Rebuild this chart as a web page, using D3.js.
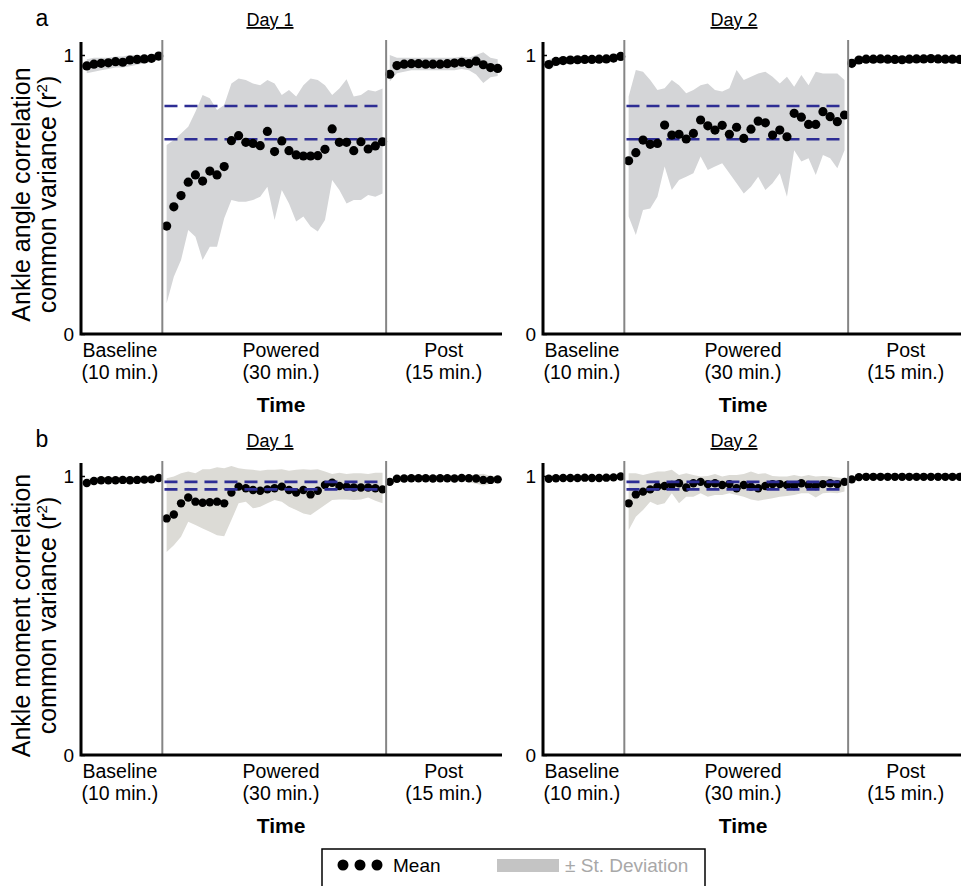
<!DOCTYPE html>
<html>
<head>
<meta charset="utf-8">
<script src="https://cdn.jsdelivr.net/npm/d3@7/dist/d3.min.js"></script>
<style>
  body { margin: 0; background: #fff; }
  svg { display: block; font-family: 'Liberation Sans', Arial, sans-serif; }
</style>
</head>
<body>
<svg id="chart" width="961" height="886"></svg>
<script>
const phaseNames = ['Baseline', 'Powered', 'Post'];
const phaseDurations = ['(10 min.)', '(30 min.)', '(15 min.)'];
const phaseCounts = [11, 31, 16];
const dayTitles = ['Day 1', 'Day 2'];
const yTicks = [0, 1];
const yLabelAngle = ['Ankle angle correlation', 'common variance (r', ')'];
const yLabelMoment = ['Ankle moment correlation', 'common variance (r', ')'];
const angleRefLines = [0.698, 0.817];
const momentRefLines = [0.952, 0.979];

// panel a, day 1 (baseline | powered | post)
const angleDay1Mean = [
  0.961, 0.967, 0.970, 0.972, 0.976, 0.974, 0.982, 0.984, 0.986, 0.988, 0.996,
  0.387, 0.456, 0.496, 0.544, 0.570, 0.548, 0.584, 0.570, 0.600, 0.693, 0.711,
  0.687, 0.683, 0.675, 0.726, 0.654, 0.692, 0.657, 0.642, 0.638, 0.638, 0.639,
  0.662, 0.735, 0.687, 0.687, 0.657, 0.689, 0.663, 0.674, 0.689,
  0.931, 0.962, 0.967, 0.969, 0.969, 0.967, 0.967, 0.967, 0.969, 0.971, 0.974,
  0.969, 0.978, 0.965, 0.955, 0.952,
];
const angleDay1Upper = [
  0.985, 0.990, 0.990, 0.990, 0.995, 0.995, 1.000, 1.000, 1.000, 1.000, 1.000,
  0.677, 0.695, 0.719, 0.743, 0.797, 0.857, 0.845, 0.803, 0.821, 0.898, 0.916,
  0.910, 0.898, 0.892, 0.910, 0.898, 0.857, 0.875, 0.851, 0.892, 0.916, 0.910,
  0.892, 0.857, 0.880, 0.913, 0.851, 0.857, 0.875, 0.869, 0.880,
  1.000, 0.990, 0.990, 0.990, 0.990, 0.990, 0.990, 0.990, 0.990, 0.990, 0.995,
  0.990, 1.000, 1.010, 0.990, 0.985,
];
const angleDay1Lower = [
  0.935, 0.940, 0.945, 0.950, 0.955, 0.955, 0.960, 0.965, 0.970, 0.975, 0.980,
  0.110, 0.205, 0.265, 0.373, 0.349, 0.265, 0.313, 0.313, 0.415, 0.480, 0.474,
  0.474, 0.480, 0.492, 0.528, 0.409, 0.516, 0.468, 0.403, 0.421, 0.385, 0.367,
  0.409, 0.552, 0.516, 0.468, 0.480, 0.480, 0.498, 0.492, 0.504,
  0.905, 0.935, 0.940, 0.945, 0.945, 0.945, 0.945, 0.945, 0.945, 0.945, 0.950,
  0.945, 0.930, 0.900, 0.920, 0.925,
];

// panel a, day 2
const angleDay2Mean = [
  0.966, 0.977, 0.980, 0.982, 0.983, 0.984, 0.984, 0.985, 0.986, 0.989, 0.995,
  0.621, 0.650, 0.695, 0.680, 0.683, 0.749, 0.713, 0.716, 0.699, 0.719, 0.767,
  0.746, 0.731, 0.748, 0.716, 0.741, 0.701, 0.734, 0.763, 0.757, 0.713, 0.731,
  0.707, 0.791, 0.777, 0.751, 0.751, 0.797, 0.779, 0.761, 0.785,
  0.970, 0.982, 0.985, 0.985, 0.986, 0.985, 0.984, 0.983, 0.985, 0.986, 0.986,
  0.987, 0.986, 0.985, 0.985, 0.984,
];
const angleDay2Upper = [
  0.985, 0.990, 0.990, 0.992, 0.992, 0.993, 0.993, 0.994, 0.995, 0.997, 1.000,
  0.851, 0.946, 0.940, 0.910, 0.875, 0.881, 0.910, 0.892, 0.863, 0.875, 0.892,
  0.898, 0.875, 0.869, 0.881, 0.946, 0.910, 0.922, 0.934, 0.940, 0.922, 0.898,
  0.922, 0.886, 0.928, 0.892, 0.940, 0.934, 0.934, 0.934, 0.910,
  0.985, 0.993, 0.995, 0.995, 0.996, 0.995, 0.994, 0.993, 0.995, 0.996, 0.996,
  0.997, 0.996, 0.995, 0.995, 0.994,
];
const angleDay2Lower = [
  0.945, 0.962, 0.968, 0.971, 0.973, 0.975, 0.975, 0.976, 0.977, 0.980, 0.988,
  0.421, 0.355, 0.444, 0.450, 0.492, 0.600, 0.516, 0.552, 0.564, 0.576, 0.636,
  0.588, 0.600, 0.612, 0.576, 0.540, 0.504, 0.528, 0.564, 0.516, 0.540, 0.576,
  0.492, 0.659, 0.618, 0.630, 0.570, 0.642, 0.630, 0.594, 0.659,
  0.950, 0.970, 0.974, 0.974, 0.975, 0.974, 0.973, 0.972, 0.974, 0.975, 0.975,
  0.976, 0.975, 0.974, 0.974, 0.973,
];

// panel b, day 1
const momentDay1Mean = [
  0.975, 0.982, 0.985, 0.985, 0.985, 0.986, 0.985, 0.986, 0.987, 0.988, 0.993,
  0.848, 0.862, 0.902, 0.923, 0.908, 0.904, 0.906, 0.908, 0.902, 0.941, 0.962,
  0.956, 0.950, 0.947, 0.952, 0.956, 0.962, 0.950, 0.941, 0.950, 0.934, 0.947,
  0.968, 0.976, 0.964, 0.962, 0.959, 0.959, 0.959, 0.956, 0.952,
  0.979, 0.990, 0.991, 0.992, 0.992, 0.992, 0.991, 0.992, 0.992, 0.991, 0.993,
  0.992, 0.991, 0.986, 0.986, 0.988,
];
const momentDay1Upper = [
  0.990, 0.995, 0.997, 0.997, 0.997, 0.998, 0.997, 0.998, 0.999, 1.000, 1.003,
  0.992, 0.998, 1.010, 1.016, 1.010, 1.024, 1.024, 1.031, 1.028, 1.036, 1.028,
  1.024, 1.022, 1.019, 1.022, 1.022, 1.024, 1.019, 1.022, 1.024, 1.022, 1.024,
  1.016, 1.007, 1.012, 1.007, 1.010, 1.010, 1.007, 1.012, 1.012,
  0.990, 1.000, 1.001, 1.002, 1.002, 1.002, 1.001, 1.002, 1.002, 1.001, 1.003,
  1.002, 1.005, 1.008, 1.000, 1.000,
];
const momentDay1Lower = [
  0.960, 0.970, 0.973, 0.973, 0.973, 0.974, 0.973, 0.974, 0.975, 0.976, 0.983,
  0.728, 0.752, 0.782, 0.836, 0.824, 0.812, 0.800, 0.788, 0.784, 0.842, 0.902,
  0.908, 0.884, 0.890, 0.902, 0.914, 0.908, 0.890, 0.878, 0.866, 0.860, 0.878,
  0.896, 0.914, 0.916, 0.916, 0.914, 0.916, 0.923, 0.911, 0.902,
  0.965, 0.978, 0.979, 0.980, 0.980, 0.980, 0.979, 0.980, 0.980, 0.979, 0.981,
  0.978, 0.972, 0.966, 0.972, 0.975,
];

// panel b, day 2
const momentDay2Mean = [
  0.990, 0.992, 0.993, 0.993, 0.993, 0.994, 0.993, 0.993, 0.994, 0.995, 0.998,
  0.902, 0.934, 0.944, 0.952, 0.962, 0.964, 0.968, 0.974, 0.959, 0.974, 0.979,
  0.971, 0.974, 0.968, 0.971, 0.956, 0.968, 0.962, 0.956, 0.964, 0.971, 0.971,
  0.968, 0.964, 0.974, 0.968, 0.964, 0.971, 0.974, 0.971, 0.979,
  0.988, 0.996, 0.997, 0.997, 0.997, 0.997, 0.997, 0.997, 0.997, 0.997, 0.997,
  0.997, 0.997, 0.997, 0.997, 0.997,
];
const momentDay2Upper = [
  0.998, 0.999, 1.000, 1.000, 1.000, 1.000, 1.000, 1.000, 1.000, 1.000, 1.002,
  1.010, 1.010, 1.004, 1.010, 1.016, 1.016, 1.022, 1.004, 1.010, 1.004, 0.998,
  1.000, 1.007, 0.998, 1.004, 1.004, 1.007, 1.016, 1.007, 1.010, 1.000, 0.998,
  0.998, 1.004, 0.998, 1.004, 0.998, 1.000, 0.998, 0.995, 0.992,
  0.996, 1.000, 1.001, 1.001, 1.001, 1.001, 1.001, 1.001, 1.001, 1.001, 1.001,
  1.001, 1.001, 1.001, 1.001, 1.001,
];
const momentDay2Lower = [
  0.982, 0.985, 0.986, 0.986, 0.986, 0.987, 0.986, 0.986, 0.987, 0.988, 0.992,
  0.806, 0.854, 0.878, 0.908, 0.896, 0.902, 0.938, 0.902, 0.926, 0.926, 0.938,
  0.926, 0.932, 0.932, 0.938, 0.932, 0.926, 0.916, 0.911, 0.916, 0.920, 0.926,
  0.928, 0.932, 0.938, 0.938, 0.923, 0.938, 0.940, 0.938, 0.944,
  0.978, 0.990, 0.991, 0.991, 0.991, 0.991, 0.991, 0.991, 0.991, 0.991, 0.991,
  0.991, 0.991, 0.991, 0.991, 0.991,
];

// layout
const PLOT_W = 421;
const PLOT_H = 279;
const AXIS_OVERHANG = 13;
const PHASE_STARTS = [0, 11.1, 42.1];
const DIVIDERS = [10.5, 41.6];
const LABEL_POS = [4.6, 27, 49.6];
const REF_SPAN = [10.8, 41.3];
const FONT = "'Liberation Sans', Arial, sans-serif";

const svg = d3.select('#chart');

const x = d3.scaleLinear().domain([-0.8, 57.7]).range([0, PLOT_W]);
const y = d3.scaleLinear().domain([0, 1]).range([PLOT_H, 0]);

// sample slot for each value, phase by phase
const slots = [];
phaseCounts.forEach((n, p) => {
  for (let i = 0; i < n; i++) slots.push({ phase: p, t: PHASE_STARTS[p] + i });
});

const drawPanel = (left, top, mean, upper, lower, refs, opts) => {
  const g = svg.append('g').attr('transform', `translate(${left},${top})`);
  const rows = mean.map((m, i) => ({ ...slots[i], m, hi: upper[i], lo: lower[i] }));

  const area = d3
    .area()
    .x((d) => x(d.t))
    .y0((d) => y(d.lo))
    .y1((d) => y(d.hi));

  phaseCounts.forEach((n, p) => {
    g.append('path')
      .datum(rows.filter((r) => r.phase === p))
      .attr('d', area)
      .attr('fill', opts.band);
  });

  const drawRefs = () => {
    g.selectAll('.ref')
      .data(refs)
      .enter()
      .append('line')
      .attr('class', 'ref')
      .attr('x1', x(REF_SPAN[0]))
      .attr('x2', x(REF_SPAN[1]))
      .attr('y1', (d) => y(d))
      .attr('y2', (d) => y(d))
      .attr('stroke', '#2d2d94')
      .attr('stroke-width', 2.6)
      .attr('stroke-dasharray', '13,7');
  };

  if (!opts.refsOnTop) drawRefs();

  g.selectAll('.dot')
    .data(rows)
    .enter()
    .append('circle')
    .attr('class', 'dot')
    .attr('cx', (d) => x(d.t))
    .attr('cy', (d) => y(d.m))
    .attr('r', opts.r)
    .attr('fill', '#000');

  if (opts.refsOnTop) drawRefs();

  // phase dividers
  g.selectAll('.divider')
    .data(DIVIDERS)
    .enter()
    .append('line')
    .attr('x1', (d) => x(d))
    .attr('x2', (d) => x(d))
    .attr('y1', -AXIS_OVERHANG - 2)
    .attr('y2', PLOT_H)
    .attr('stroke', '#858585')
    .attr('stroke-width', 2);

  // axes lines
  g.append('path')
    .attr('d', `M0,${-AXIS_OVERHANG}V${PLOT_H}H${PLOT_W}`)
    .attr('fill', 'none')
    .attr('stroke', '#000')
    .attr('stroke-width', 3);

  const yAxis = g
    .append('g')
    .call(d3.axisLeft(y).tickValues(yTicks).tickFormat(d3.format('d')).tickSize(-4).tickPadding(7));
  yAxis.select('.domain').remove();
  yAxis.selectAll('line').attr('stroke', '#000').attr('stroke-width', 1.5);
  yAxis
    .selectAll('text')
    .attr('font-family', FONT)
    .attr('font-size', 19)
    .attr('fill', '#000');

  // phase labels
  const labels = g
    .selectAll('.phase')
    .data(phaseNames)
    .enter()
    .append('text')
    .attr('text-anchor', 'middle')
    .attr('font-size', 19.5)
    .attr('fill', '#000');
  labels
    .append('tspan')
    .attr('x', (d, i) => x(LABEL_POS[i]))
    .attr('y', PLOT_H + 23)
    .text((d) => d);
  labels
    .append('tspan')
    .attr('x', (d, i) => x(LABEL_POS[i]))
    .attr('y', PLOT_H + 45)
    .text((d, i) => phaseDurations[i]);

  g.append('text')
    .attr('x', x(LABEL_POS[1]))
    .attr('y', PLOT_H + 78)
    .attr('text-anchor', 'middle')
    .attr('font-size', 21)
    .attr('font-weight', 'bold')
    .text('Time');

  g.append('text')
    .attr('x', opts.titleX)
    .attr('y', -AXIS_OVERHANG - 16)
    .attr('text-anchor', 'middle')
    .attr('font-size', 18)
    .attr('text-decoration', 'underline')
    .text(opts.title);
};

const drawYLabel = (lines, top) => {
  const cy = top + PLOT_H / 2;
  const t = svg
    .append('text')
    .attr('transform', `translate(0,${cy}) rotate(-90)`)
    .attr('text-anchor', 'middle')
    .attr('font-size', 25)
    .attr('fill', '#000');
  t.append('tspan').attr('x', 0).attr('y', 30).text(lines[0]);
  t.append('tspan').attr('x', 0).attr('y', 56).text(lines[1]);
  t.append('tspan').attr('dy', -9).attr('font-size', 15).text('2');
  t.append('tspan').attr('dy', 9).text(lines[2]);
};

const PANEL_LEFT = [81, 543];
const PANEL_TOP = [55, 476];

drawPanel(PANEL_LEFT[0], PANEL_TOP[0], angleDay1Mean, angleDay1Upper, angleDay1Lower, angleRefLines,
  { band: '#d4d5d7', r: 4.6, title: dayTitles[0], titleX: 189, refsOnTop: false });
drawPanel(PANEL_LEFT[1], PANEL_TOP[0], angleDay2Mean, angleDay2Upper, angleDay2Lower, angleRefLines,
  { band: '#d4d5d7', r: 4.6, title: dayTitles[1], titleX: 191, refsOnTop: false });
drawPanel(PANEL_LEFT[0], PANEL_TOP[1], momentDay1Mean, momentDay1Upper, momentDay1Lower, momentRefLines,
  { band: '#dcdbd6', r: 4.2, title: dayTitles[0], titleX: 189, refsOnTop: true });
drawPanel(PANEL_LEFT[1], PANEL_TOP[1], momentDay2Mean, momentDay2Upper, momentDay2Lower, momentRefLines,
  { band: '#dcdbd6', r: 4.2, title: dayTitles[1], titleX: 191, refsOnTop: true });

drawYLabel(yLabelAngle, PANEL_TOP[0]);
drawYLabel(yLabelMoment, PANEL_TOP[1]);

svg.append('text').attr('x', 42).attr('y', 26).attr('text-anchor', 'middle').attr('font-size', 23).text('a');
svg.append('text').attr('x', 42).attr('y', 447).attr('text-anchor', 'middle').attr('font-size', 23).text('b');

// legend
const legend = svg.append('g').attr('transform', 'translate(322,849)');
legend
  .append('rect')
  .attr('x', 0)
  .attr('y', 0)
  .attr('width', 383)
  .attr('height', 50)
  .attr('fill', '#fff')
  .attr('stroke', '#000')
  .attr('stroke-width', 1.5);
legend
  .selectAll('.ldot')
  .data([21, 38, 55])
  .enter()
  .append('circle')
  .attr('cx', (d) => d)
  .attr('cy', 16)
  .attr('r', 5.5)
  .attr('fill', '#000');
legend.append('text').attr('x', 71).attr('y', 23).attr('font-size', 19).text('Mean');
legend.append('rect').attr('x', 175).attr('y', 10).attr('width', 62).attr('height', 13).attr('fill', '#c4c4c4');
legend.append('text').attr('x', 243).attr('y', 23).attr('font-size', 19).attr('fill', '#a8a8a8').text('± St. Deviation');
</script>
</body>
</html>
